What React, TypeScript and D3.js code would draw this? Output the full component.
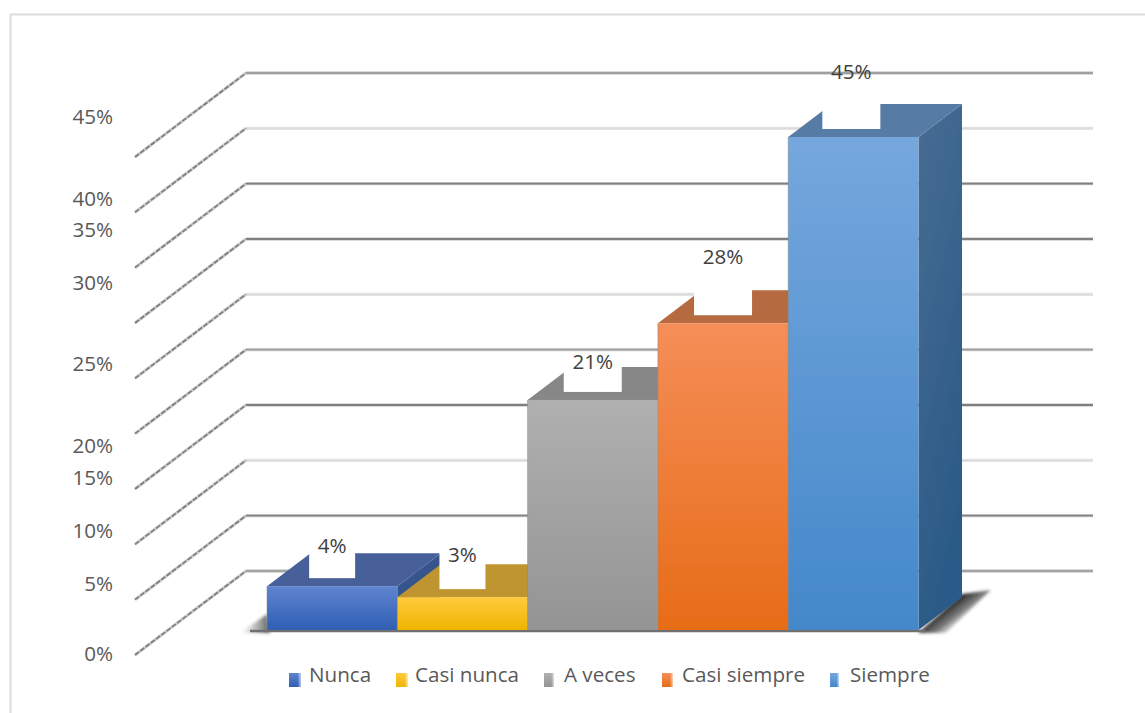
import React from "react";
import * as d3 from "d3";

// Survey answers and their shares, in percent
const categories = ["Nunca", "Casi nunca", "A veces", "Casi siempre", "Siempre"];
const shares = [4, 3, 21, 28, 45];
const axisTicks = [0, 5, 10, 15, 20, 25, 30, 35, 40, 45];

// Per-series colours: front gradient, top face
const frontTop = ["#5f84cf", "#ffca3e", "#b0b0b0", "#f58e58", "#75a7dd"];
const frontBottom = ["#2f5fb4", "#efb400", "#949494", "#e76c17", "#4488ca"];
const topFace = ["#466099", "#bf9530", "#878787", "#b56a3f", "#577ba6"];
const sideTop = ["#3d5a92", "#a98428", "#777777", "#a05c35", "#486d93"];
const sideBottom = ["#2c4c85", "#a07a20", "#6a6a6a", "#96562e", "#2b5a87"];

// Layout of the pseudo-3D plot
const W = 1145;
const H = 713;
const depthX = 43.5;
const depthY = 33;
const wallDx = 111;
const wallDy = 84;
const wallLeft = 246;
const wallRight = 1093;
const floorY = 630;

// Axis label baselines, legend columns and rule shades
const tickBaselines = [661, 591, 538, 485, 453, 371, 290, 237, 206, 124];
const legendSwatchX = [289, 396, 544, 662, 830];
const legendSwatchW = [12, 12, 10, 11, 9];
const legendTextX = [309, 415, 564, 682, 850];
const ruleHalo = ["#cdcdcd", "#d0d0d0", "#e6e6e6", "#cfcfcf", "#d2d2d2", "#e6e6e6", "#d0d0d0", "#cfcfcf", "#e6e6e6", "#cfcfcf"];
const ruleCore = ["#a4a4a4", "#858585", "#dcdcdc", "#7f7f7f", "#a0a0a0", "#dcdcdc", "#808080", "#7f7f7f", "#dcdcdc", "#a0a0a0"];
const labelLift = [25, 27, 23, 51, 50];
const labelShift = [0, 0, 0, 0, -2];
const plateHeight = [42, 42, 40, 42, 42];

const font = "'Open Sans', sans-serif";

const wallY = d3.scaleLinear().domain([0, 45]).range([571, 73]);
const barY = d3.scaleLinear().domain([0, 45]).range([floorY, 137]);
const barX = d3.scaleBand<string>().domain(categories).range([267, 918.5]).padding(0);
const poly = d3.line<[number, number]>().x((d) => d[0]).y((d) => d[1]).curve(d3.curveLinearClosed);

export default function App() {
  const bw = barX.bandwidth();
  return (
    <svg
      width={W}
      height={H}
      viewBox={`0 0 ${W} ${H}`}
      style={{ position: "absolute", left: 0, top: 0, background: "#fff", fontFamily: font }}
    >
      <defs>
        <filter id="soft" filterUnits="userSpaceOnUse" x="0" y="0" width={W} height={H}>
          <feGaussianBlur stdDeviation="0.55" />
        </filter>
        <filter id="shade" filterUnits="userSpaceOnUse" x="0" y="0" width={W} height={H}>
          <feGaussianBlur stdDeviation="1.6" />
        </filter>
        <linearGradient id="shadowRight" gradientUnits="userSpaceOnUse" x1="941" y1="612" x2="956" y2="631">
          <stop offset="0" stopColor="#1e1e1e" stopOpacity="0.95" />
          <stop offset="0.5" stopColor="#444" stopOpacity="0.7" />
          <stop offset="1" stopColor="#888" stopOpacity="0" />
        </linearGradient>
        <linearGradient id="shadowLeft" x1="1" x2="0" y1="0" y2="0">
          <stop offset="0" stopColor="#333" stopOpacity="0.8" />
          <stop offset="1" stopColor="#888" stopOpacity="0" />
        </linearGradient>
        {categories.map((c, i) => (
          <React.Fragment key={c}>
            <linearGradient id={`front${i}`} x1="0" x2="0" y1="0" y2="1">
              <stop offset="0" stopColor={frontTop[i]} />
              <stop offset="1" stopColor={frontBottom[i]} />
            </linearGradient>
            <linearGradient id={`side${i}`} x1="0" x2="0.35" y1="0" y2="1">
              <stop offset="0" stopColor={sideTop[i]} />
              <stop offset="1" stopColor={sideBottom[i]} />
            </linearGradient>
            <linearGradient id={`swatch${i}`} x1="0" x2="1" y1="0" y2="0">
              <stop offset="0.72" stopColor="#fff" stopOpacity="0" />
              <stop offset="1" stopColor="#fff" stopOpacity="0.65" />
            </linearGradient>
          </React.Fragment>
        ))}
      </defs>

      {/* Chart frame, open toward the right and bottom edges */}
      <path d={`M10.5,${H} V14.5 H${W}`} fill="none" stroke="#dcdcdc" strokeWidth={2} />

      {/* Back wall rules and their diagonals along the side wall */}
      {axisTicks.map((t, i) => {
        const y = wallY(t);
        return (
          <g key={t} filter="url(#soft)">
            <line x1={wallLeft} x2={wallRight} y1={y} y2={y} stroke={ruleHalo[i]} strokeWidth={3.4} />
            <line x1={wallLeft} x2={wallRight} y1={y} y2={y} stroke={ruleCore[i]} strokeWidth={1.8} />
            <line x1={wallLeft - wallDx} x2={wallLeft} y1={y + wallDy} y2={y} stroke="#cfcfcf" strokeWidth={3.2} />
            <line
              x1={wallLeft - wallDx}
              x2={wallLeft}
              y1={y + wallDy}
              y2={y}
              stroke="#7e7e7e"
              strokeWidth={1.7}
              strokeDasharray="5 1.6"
            />
          </g>
        );
      })}

      {/* Value axis labels */}
      {axisTicks.map((t, i) => (
        <text key={t} x={113} y={tickBaselines[i]} textAnchor="end" fontSize={20.6} fill="#595959">
          {`${t}%`}
        </text>
      ))}

      {/* Floor shadows under the block of bars */}
      <path
        d={poly([[918, 633], [962, 594], [991, 590], [946, 633]]) ?? ""}
        fill="url(#shadowRight)"
        filter="url(#shade)"
      />
      <path d={poly([[240, 633], [267, 614], [270, 633]]) ?? ""} fill="url(#shadowLeft)" filter="url(#shade)" />
      <line x1={250} x2={925} y1={631} y2={631} stroke="#6f6f6f" strokeWidth={2.6} filter="url(#soft)" />

      {/* Bars, painted left to right so each one covers its neighbour's side */}
      <g filter="url(#soft)">
        {categories.map((c, i) => {
          const x0 = barX(c) ?? 0;
          const x1 = x0 + bw;
          const top = barY(shares[i]);
          const back = top - depthY;
          return (
            <g key={c}>
              <path
                d={poly([[x1, floorY], [x1 + depthX, floorY - depthY], [x1 + depthX, back], [x1, top]]) ?? ""}
                fill={`url(#side${i})`}
              />
              <path
                d={poly([[x0, top], [x0 + depthX, back], [x1 + depthX, back], [x1, top]]) ?? ""}
                fill={topFace[i]}
              />
              <rect x={x0} y={top} width={bw} height={floorY - top} fill={`url(#front${i})`} />
              <line x1={x0} x2={x0} y1={top} y2={floorY} stroke="#8a8a8a" strokeOpacity={0.55} strokeWidth={1} />
            </g>
          );
        })}
      </g>

      {/* Data labels on their white plates */}
      {categories.map((c, i) => {
        const cx = (barX(c) ?? 0) + bw / 2 + labelShift[i];
        const bottom = barY(shares[i]) - 8;
        const label = `${shares[i]}%`;
        const plate = label.length === 2 ? 46 : 58;
        return (
          <g key={c}>
            <rect x={cx - plate / 2} y={bottom - plateHeight[i]} width={plate} height={plateHeight[i]} fill="#fff" />
            <text x={cx} y={bottom - labelLift[i]} textAnchor="middle" fontSize={20.6} fill="#404040">
              {label}
            </text>
          </g>
        );
      })}

      {/* Legend */}
      {categories.map((c, i) => (
        <g key={c}>
          <rect x={legendSwatchX[i]} y={673} width={legendSwatchW[i]} height={14} fill={`url(#front${i})`} />
          <rect x={legendSwatchX[i]} y={673} width={legendSwatchW[i]} height={14} fill={`url(#swatch${i})`} />
          <text x={legendTextX[i]} y={682} fontSize={20.6} fill="#595959">
            {c}
          </text>
        </g>
      ))}
    </svg>
  );
}
